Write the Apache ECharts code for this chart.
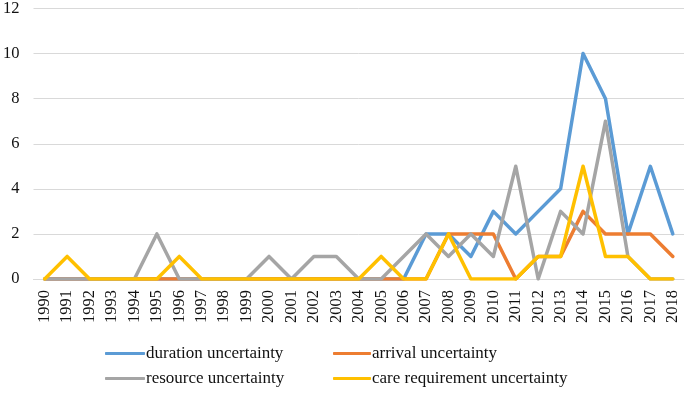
<!DOCTYPE html>
<html>
<head>
<meta charset="utf-8">
<script src="https://cdn.jsdelivr.net/npm/echarts@6/dist/echarts.min.js"></script>
<style>html,body{margin:0;padding:0;background:#fff}#c{width:685px;height:394px}</style>
</head>
<body>
<div id="c"></div>
<script>
const years = ['1990','1991','1992','1993','1994','1995','1996','1997','1998','1999','2000','2001','2002','2003','2004','2005','2006','2007','2008','2009','2010','2011','2012','2013','2014','2015','2016','2017','2018'];
const duration = [0,0,0,0,0,0,0,0,0,0,0,0,0,0,0,0,0,2,2,1,3,2,3,4,10,8,2,5,2];
const arrival  = [0,0,0,0,0,0,0,0,0,0,0,0,0,0,0,0,0,0,2,2,2,0,1,1,3,2,2,2,1];
const resource = [0,0,0,0,0,2,0,0,0,0,1,0,1,1,0,0,1,2,1,2,1,5,0,3,2,7,1,0,0];
const care     = [0,1,0,0,0,0,1,0,0,0,0,0,0,0,0,1,0,0,2,0,0,0,1,1,5,1,1,0,0];
const yTicks = [0,2,4,6,8,10,12];

const font = 'Liberation Serif';
const chart = echarts.init(document.getElementById('c'));
function s(name, data, color){
  return {name, type:'line', data, symbol:'none', lineStyle:{width:3.5, color, cap:'round', join:'round'}, itemStyle:{color}};
}
const legendText = {fontFamily:font, fontSize:17, color:'#111', padding:[0,0,0,-4]};
chart.setOption({
  animation:false,
  grid:{left:31, right:1, top:8, bottom:115, containLabel:false},
  xAxis:{type:'category', data:years, boundaryGap:true,
    axisLine:{show:true, lineStyle:{color:'#D9D9D9', width:1}},
    axisTick:{show:false},
    axisLabel:{rotate:90, margin:11, fontFamily:font, fontSize:16.5, color:'#111', interval:0}},
  yAxis:{type:'value', min:yTicks[0], max:yTicks[yTicks.length-1], interval:2,
    axisLine:{show:false}, axisTick:{show:false},
    splitLine:{lineStyle:{color:'#D9D9D9', width:1}},
    axisLabel:{margin:14, fontFamily:font, fontSize:16.5, color:'#111'}},
  legend:[
    {left:105, top:345, padding:0, orient:'vertical', itemGap:8, itemWidth:40, itemHeight:3, icon:'roundRect',
     data:['duration uncertainty','resource uncertainty'], textStyle:legendText},
    {left:333, top:345, padding:0, orient:'vertical', itemGap:8, itemWidth:38, itemHeight:3, icon:'roundRect',
     data:['arrival uncertainty','care requirement uncertainty'], textStyle:legendText}
  ],
  series:[
    s('duration uncertainty', duration, '#5B9BD5'),
    s('arrival uncertainty', arrival, '#ED7D31'),
    s('resource uncertainty', resource, '#A5A5A5'),
    s('care requirement uncertainty', care, '#FFC000')
  ]
});
</script>
</body>
</html>
